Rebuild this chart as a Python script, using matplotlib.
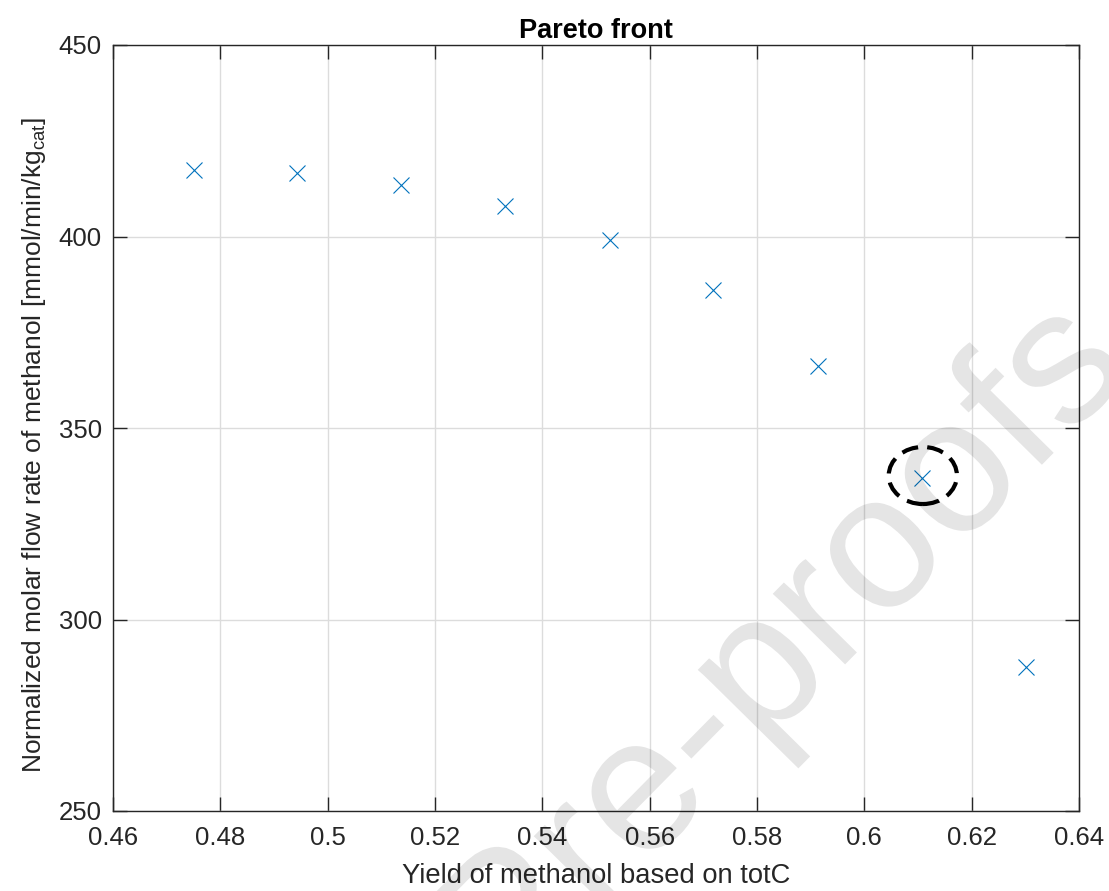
import matplotlib

matplotlib.use("Agg")
import matplotlib.pyplot as plt
import numpy as np
from matplotlib.font_manager import FontProperties
from matplotlib.patches import Ellipse, PathPatch
from matplotlib.textpath import TextPath
from matplotlib.transforms import Affine2D

# Pareto points
YIELD = [0.4751, 0.4943, 0.5137, 0.5330, 0.5526, 0.5718, 0.5914, 0.6107, 0.6301]
FLOW = [417.4, 416.6, 413.4, 408.0, 399.1, 386.0, 366.2, 337.0, 287.6]

# the highlighted (chosen) point
SEL_X = 0.6109
SEL_Y = 337.6

XTICKS = [0.46, 0.48, 0.5, 0.52, 0.54, 0.56, 0.58, 0.6, 0.62, 0.64]
XTICKLABELS = ["0.46", "0.48", "0.5", "0.52", "0.54", "0.56", "0.58", "0.6", "0.62", "0.64"]
YTICKS = [250, 300, 350, 400, 450]

W, H = 1109, 891
C_PTS = "#0072BD"  # MATLAB default blue
C_AX = "#262626"

# watermark: where three of its glyph centres sit (px from top-left)
WM_TEXT = "Journal Pre-proofs"
WM_PINS = [("Journal Pre-", "-", 703, 737),
           ("Journal Pre-pro", "o", 880, 554),
           ("Journal Pre-proo", "o", 958, 480)]

plt.rcParams.update({
    "font.family": ["Liberation Sans", "DejaVu Sans"],
    "mathtext.fontset": "custom",
    "mathtext.rm": "Liberation Sans",
    "mathtext.it": "Liberation Sans",
    "font.size": 16,
})

fig = plt.figure(figsize=(W / 100, H / 100), dpi=100)
ax = fig.add_axes([113 / W, 1 - 811 / H, (1079 - 113) / W, (811 - 45) / H])

ax.plot(YIELD, FLOW, linestyle="none", marker="x", markersize=11,
        markeredgewidth=0.8, color=C_PTS, zorder=3)

ax.add_patch(Ellipse((SEL_X, SEL_Y), 0.0127, 14.9, fill=False, edgecolor="black",
                     linewidth=3, linestyle=(0, (4, 2.2)), zorder=4))

ax.set_xlim(0.46, 0.64)
ax.set_ylim(250, 450)
ax.set_xticks(XTICKS)
ax.set_xticklabels(XTICKLABELS)
ax.set_yticks(YTICKS)

ax.grid(True, color="#dcdcdc", linewidth=1.0, zorder=0)
ax.set_axisbelow(True)
for s in ax.spines.values():
    s.set_color(C_AX)
    s.set_linewidth(1.0)
ax.tick_params(direction="in", length=10, width=1.0, color=C_AX, labelcolor=C_AX,
               labelsize=18.5, top=True, right=True, pad=8)
ax.tick_params(axis="x", pad=11)

ax.set_xlabel("Yield of methanol based on totC", fontsize=19.7, color=C_AX, labelpad=9)
ax.set_ylabel("Normalized molar flow rate of methanol [mmol/min/kg$_{\\mathrm{cat}}$]",
              fontsize=19, color=C_AX, labelpad=8)
ax.yaxis.label.set_y(0.478)
ax.set_title("Pareto front", fontsize=19.5, fontweight="bold", color="black", pad=5)

# Watermark as a glyph path; fit scale/rotation/offset so the pinned glyphs
# land where they are in the reference.
fp = FontProperties(family="Liberation Sans")
src, dst = [], []
for prefix, glyph, px, py in WM_PINS:
    full = TextPath((0, 0), prefix, size=1, prop=fp).get_extents()
    g = TextPath((0, 0), glyph, size=1, prop=fp).get_extents()
    src.append(complex(full.x1 - g.width / 2, (g.y0 + g.y1) / 2))
    dst.append(complex(px, H - py))
src, dst = np.array(src), np.array(dst)
ps, qs = src - src.mean(), dst - dst.mean()
a = (qs * ps.conj()).sum() / (np.abs(ps) ** 2).sum()
b = dst.mean() - a * src.mean()
tr = Affine2D().scale(abs(a)).rotate(np.angle(a)).translate(b.real, b.imag)
wm = PathPatch(TextPath((0, 0), WM_TEXT, size=1, prop=fp), facecolor="black",
               edgecolor="none", alpha=0.1, transform=tr, zorder=10)
fig.add_artist(wm)

fig.savefig("out.png", dpi=100)
